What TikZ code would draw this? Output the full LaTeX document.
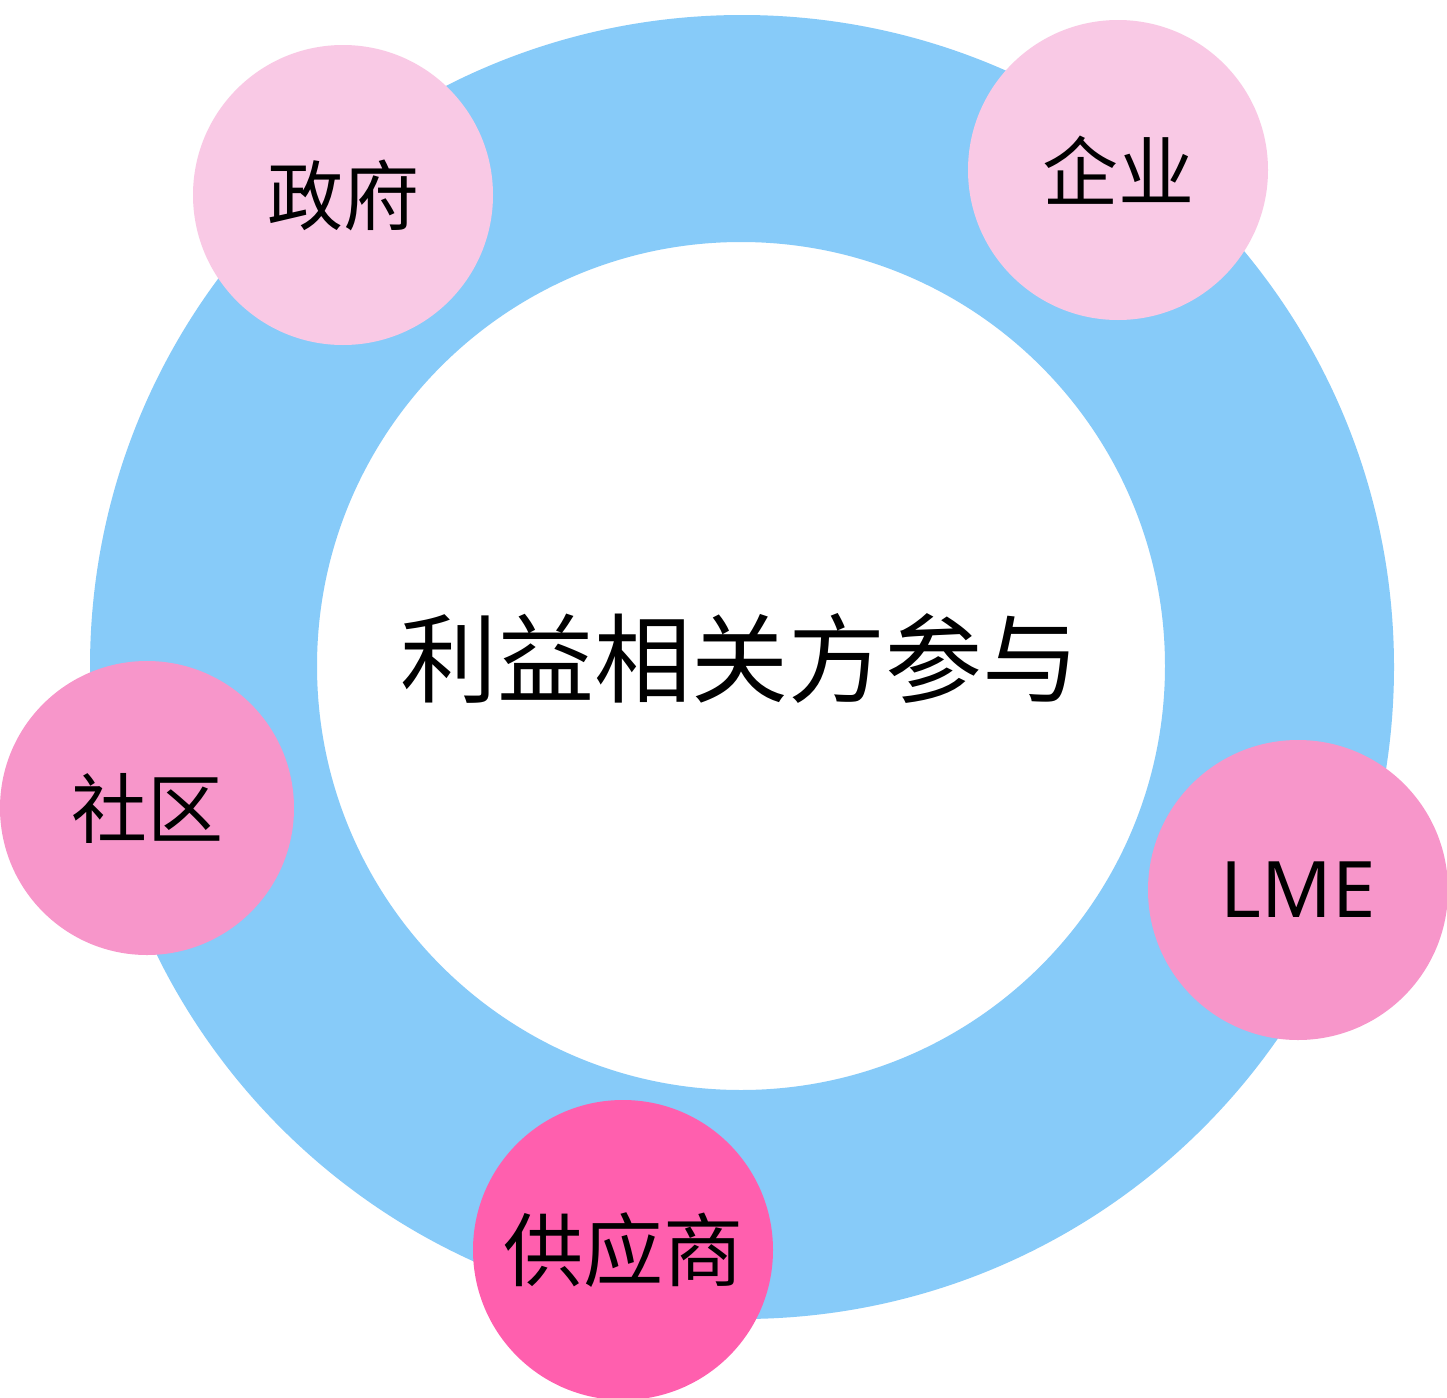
\documentclass[tikz,border=0pt]{standalone}
\usepackage{fontspec}
\newfontfamily\cjk{Noto Sans CJK SC}
\newfontfamily\latin{Noto Sans}
\definecolor{ringblue}{HTML}{87CBF9}
\definecolor{pinkA}{HTML}{F9C9E5}
\definecolor{pinkB}{HTML}{F796CA}
\definecolor{pinkC}{HTML}{FF5FAE}
\tikzset{
  party/.style={circle, draw=none, minimum size=150pt, inner sep=0pt, text=black},
  lbl/.style={font=\cjk\fontsize{38}{40}\selectfont}
}
\begin{document}
\begin{tikzpicture}[x=0.5pt,y=-0.5pt]
\fill[white] (0,0) rectangle (1447,1398);
\useasboundingbox (0,0) rectangle (1447,1398);
% ring
\fill[ringblue, even odd rule] (742,667) circle[radius=326pt] (741,666) circle[radius=212pt];
\node[font=\cjk\fontsize{48.5}{50}\selectfont, text=black] (center) at (740,658) {利益相关方参与};
\node[party, fill=pinkA, lbl] (gov) at (343,195) {政府};
\node[party, fill=pinkA, lbl] (ent) at (1118,170) {企业};
\node[party, fill=pinkB, minimum size=147pt, lbl] (com) at (147,808) {社区};
\node[party, fill=pinkB, font=\latin\fontsize{39}{41}\selectfont] (lme) at (1298,890) {LME};
\node[party, fill=pinkC, font=\cjk\fontsize{40}{42}\selectfont] (sup) at (623,1250) {供应商};
\end{tikzpicture}
\end{document}
